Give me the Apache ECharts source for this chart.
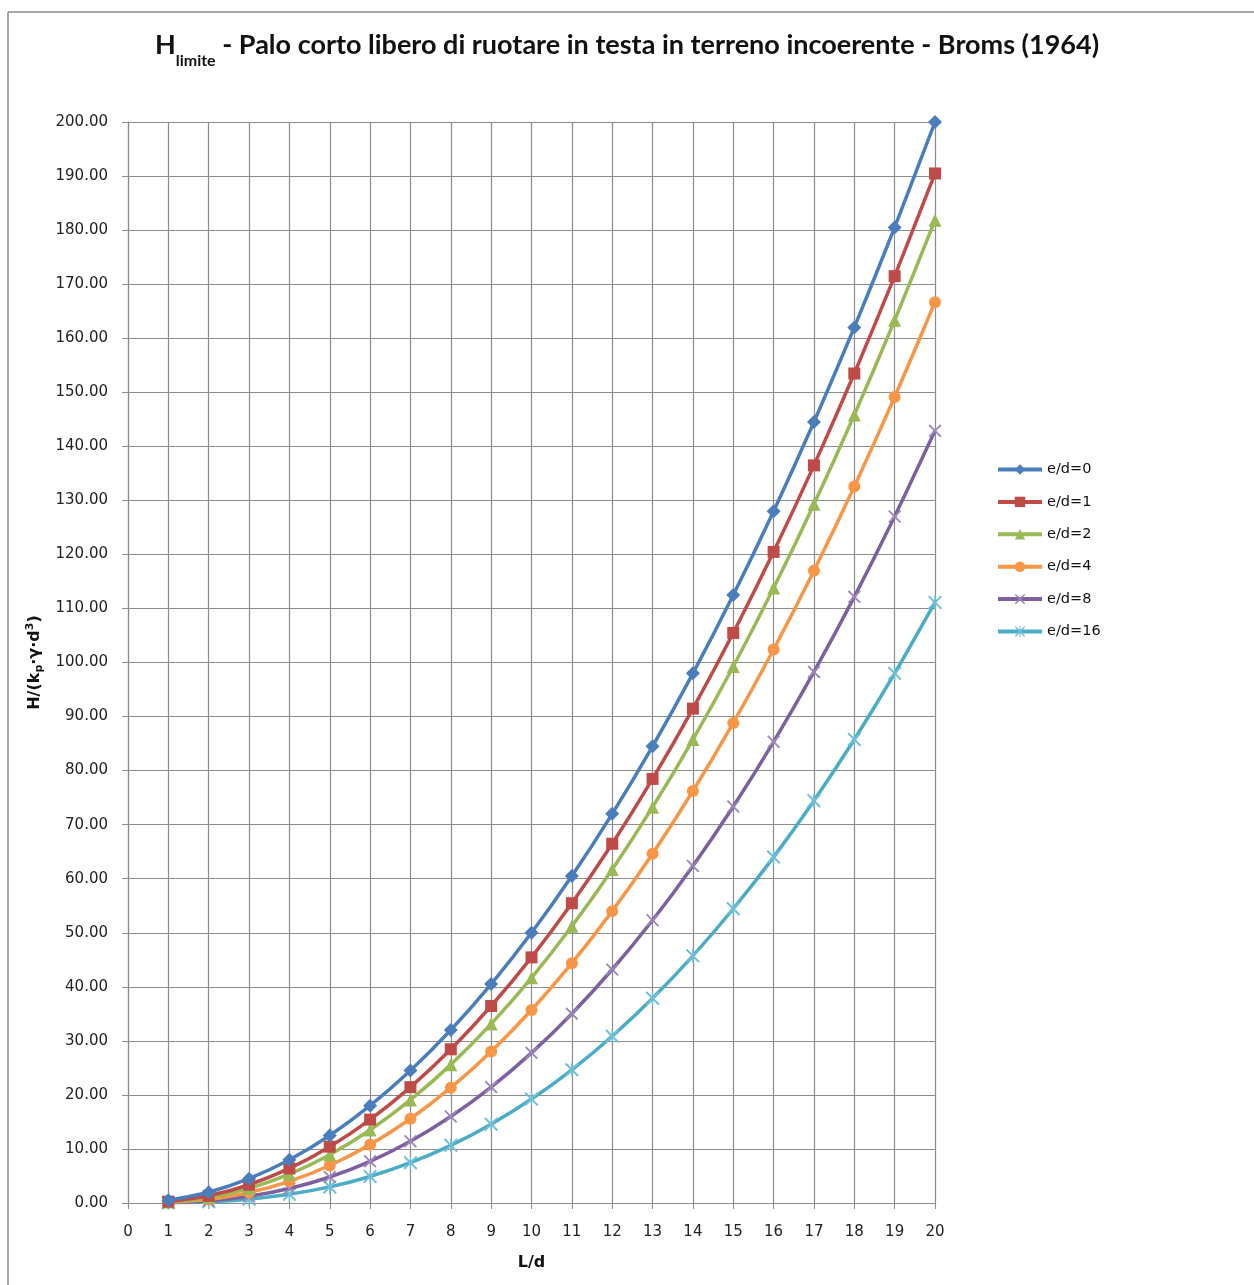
<!DOCTYPE html>
<html>
<head>
<meta charset="utf-8">
<script src="https://cdn.jsdelivr.net/npm/echarts@6/dist/echarts.min.js"></script>
<style>html,body{margin:0;padding:0;background:#fff;}#c{width:1254px;height:1285px;}</style>
</head>
<body>
<div id="c"></div>
<script>
// L/d values
var ld = [1,2,3,4,5,6,7,8,9,10,11,12,13,14,15,16,17,18,19,20];
var seriesNames = ['e/d=0','e/d=1','e/d=2','e/d=4','e/d=8','e/d=16'];
var ed0  = [0.50,2.00,4.50,8.00,12.50,18.00,24.50,32.00,40.50,50.00,60.50,72.00,84.50,98.00,112.50,128.00,144.50,162.00,180.50,200.00];
var ed1  = [0.25,1.33,3.38,6.40,10.42,15.43,21.44,28.44,36.45,45.45,55.46,66.46,78.46,91.47,105.47,120.47,136.47,153.47,171.48,190.48];
var ed2  = [0.17,1.00,2.70,5.33,8.93,13.50,19.06,25.60,33.14,41.67,51.19,61.71,73.23,85.75,99.26,113.78,129.29,145.80,163.31,181.82];
var ed4  = [0.10,0.67,1.93,4.00,6.94,10.80,15.59,21.33,28.04,35.71,44.37,54.00,64.62,76.22,88.82,102.40,116.98,132.55,149.11,166.67];
var ed8  = [0.06,0.40,1.23,2.67,4.81,7.71,11.43,16.00,21.44,27.78,35.03,43.20,52.31,62.36,73.37,85.33,98.26,112.15,127.02,142.86];
var ed16 = [0.03,0.22,0.71,1.60,2.98,4.91,7.46,10.67,14.58,19.23,24.65,30.86,37.88,45.73,54.44,64.00,74.44,85.76,97.99,111.11];
var allValues = [ed0, ed1, ed2, ed4, ed8, ed16];

var lineColors = ['#4A7EBB','#BE4B48','#98B954','#F79646','#7D60A0','#4BACC6'];
var markColors = ['#4A7EBB','#BE4B48','#98B954','#F79646','#9C86BA','#6FC0D6'];
var crossPath = 'path://M0,1 L1,0 L5,4 L9,0 L10,1 L6,5 L10,9 L9,10 L5,6 L1,10 L0,9 L4,5 Z';
var starPath = 'path://M0,1 L1,0 L5,4 L9,0 L10,1 L6,5 L10,9 L9,10 L5,6 L1,10 L0,9 L4,5 Z M4.5,0 L5.5,0 L5.5,10 L4.5,10 Z';
var symbols = ['diamond','rect','triangle','circle',crossPath,starPath];
var symbolSizes = [14,12,13,12,13,14];

var series = seriesNames.map(function(n, i){
  return {
    name: n,
    type: 'line',
    smooth: 0.25,
    data: ld.map(function(x, j){ return [x, allValues[i][j]]; }),
    symbol: symbols[i],
    symbolSize: symbolSizes[i],
    showAllSymbol: true,
    lineStyle: { color: lineColors[i], width: 3.5 },
    itemStyle: { color: markColors[i] },
    emphasis: { disabled: true },
    z: 10 - i
  };
});

var chart = echarts.init(document.getElementById('c'), null, {renderer:'canvas'});
chart.setOption({
  animation: false,
  backgroundColor: '#ffffff',
  title: {
    left: 'center',
    top: 27,
    text: '{h|H}{s|limite}{m| - Palo corto libero di ruotare in testa in terreno incoerente - Broms (1964)}',
    textStyle: {
      rich: {
        h: { fontFamily: 'Lato', fontWeight: 'bold', fontSize: 27, color: '#111', lineHeight: 31, verticalAlign: 'top' },
        s: { fontFamily: 'Lato', fontWeight: 'bold', fontSize: 16, color: '#111', lineHeight: 16, verticalAlign: 'bottom', padding: [0,0,-6,0] },
        m: { fontFamily: 'Lato', fontWeight: 'bold', fontSize: 27, color: '#111', lineHeight: 31, verticalAlign: 'top' }
      }
    }
  },
  legend: {
    orient: 'vertical',
    left: 991,
    top: 457,
    itemWidth: 44,
    itemHeight: 13,
    itemGap: 17.4,
    lineStyle: { width: 4 },
    textStyle: { fontFamily: 'DejaVu Sans', fontSize: 14.5, color: '#111' },
    data: seriesNames
  },
  grid: { left: 128, right: 319, top: 122, bottom: 82, containLabel: false },
  xAxis: {
    type: 'value', min: 0, max: 20, interval: 1,
    name: 'L/d', nameLocation: 'middle', nameGap: 52,
    nameTextStyle: { fontFamily: 'DejaVu Sans', fontWeight: 'bold', fontSize: 16, color: '#111' },
    axisLine: { show: true, lineStyle: { color: '#8c8c8c', width: 1.2 } },
    axisTick: { show: true, length: 6, lineStyle: { color: '#8c8c8c' } },
    axisLabel: { margin: 22, fontFamily: 'DejaVu Sans', fontSize: 15, color: '#222' },
    splitLine: { show: true, lineStyle: { color: '#8c8c8c', width: 1.2 } }
  },
  yAxis: {
    type: 'value', min: 0, max: 200, interval: 10,
    name: '{a|H/(k}{s|p}{a|·γ·d}{p|3}{a|)}', nameLocation: 'middle', nameGap: 83, nameRotate: 90,
    nameTextStyle: {
      rich: {
        a: { fontFamily: 'DejaVu Sans', fontWeight: 'bold', fontSize: 16, color: '#111', lineHeight: 20 },
        s: { fontFamily: 'DejaVu Sans', fontWeight: 'bold', fontSize: 11, color: '#111', verticalAlign: 'bottom', lineHeight: 13 },
        p: { fontFamily: 'DejaVu Sans', fontWeight: 'bold', fontSize: 11, color: '#111', verticalAlign: 'top', lineHeight: 13 }
      }
    },
    axisLine: { show: true, lineStyle: { color: '#8c8c8c', width: 1.2 } },
    axisTick: { show: true, length: 6, lineStyle: { color: '#8c8c8c' } },
    axisLabel: { margin: 20, fontFamily: 'DejaVu Sans', fontSize: 15, color: '#222',
      formatter: function(v){ return v.toFixed(2); } },
    splitLine: { show: true, lineStyle: { color: '#8c8c8c', width: 1.2 } }
  },
  graphic: [
    { type: 'line', shape: { x1: 8, y1: 12, x2: 1254, y2: 12 }, style: { stroke: '#8a8a8a', lineWidth: 1.5 } },
    { type: 'line', shape: { x1: 8, y1: 12, x2: 8, y2: 1285 }, style: { stroke: '#8a8a8a', lineWidth: 1.5 } }
  ],
  series: series
});
</script>
</body>
</html>
